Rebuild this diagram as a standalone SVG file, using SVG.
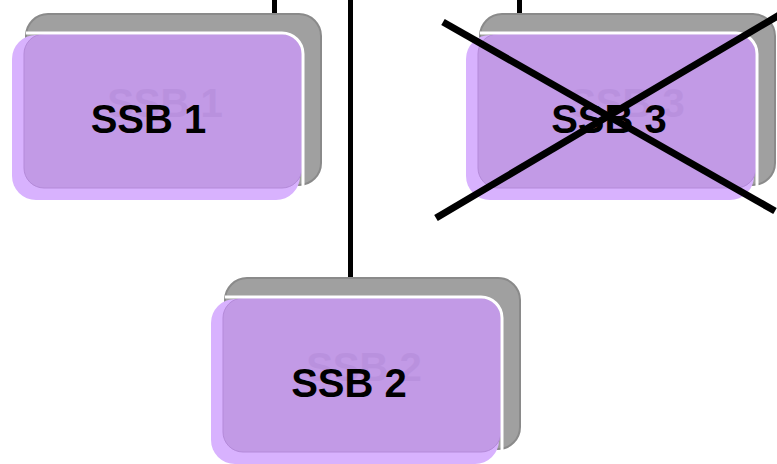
<svg xmlns="http://www.w3.org/2000/svg" width="777" height="464" viewBox="0 0 777 464">
<style>
.shadow{fill:#a0a0a0;stroke:#8a8a8a;stroke-width:2}
.light{fill:#d8b2fe}
.dark{fill:#c29ae6;stroke:#b48ad9;stroke-width:1}
.edge{fill:none;stroke:#ffffff;stroke-width:3}
.lbl{font-family:"Liberation Sans",Arial,sans-serif;font-weight:bold;font-size:40px;text-anchor:middle;fill:#000}
.ghost{font-family:"Liberation Sans",Arial,sans-serif;font-weight:bold;font-size:40px;text-anchor:middle;fill:#b38bd8;opacity:0.55}
.conn{stroke:#000;stroke-width:5;fill:none}
.cross{stroke:#000;stroke-width:7;fill:none}
</style>
<defs>
<g id="box">
<rect class="shadow" x="14" y="0" width="295" height="171" rx="22"/>
<rect class="light" x="0" y="21" width="288" height="165" rx="24"/>
<rect class="dark" x="12" y="20" width="278" height="154" rx="20"/>
<path class="edge" d="M14,19 H270 A21,21 0 0 1 291,40 V176"/>
</g>
</defs>
<g id="connectors">
<line class="conn" x1="274.5" y1="0" x2="274.5" y2="15"/>
<line class="conn" x1="350.5" y1="0" x2="350.5" y2="279"/>
<line class="conn" x1="519.5" y1="0" x2="519.5" y2="15"/>
</g>
<g id="ssb1" transform="translate(12,14)">
<use href="#box"/>
<text class="ghost" x="153" y="103">SSB 1</text>
<text class="lbl" x="136.5" y="119">SSB 1</text>
</g>
<g id="ssb3" transform="translate(466,14)">
<use href="#box"/>
<text class="ghost" x="161" y="103">SSB 3</text>
<text class="lbl" x="143" y="119">SSB 3</text>
</g>
<g id="ssb2" transform="translate(211,278)">
<use href="#box"/>
<text class="ghost" x="153" y="103">SSB 2</text>
<text class="lbl" x="138" y="119">SSB 2</text>
</g>
<g id="cross">
<line class="cross" x1="443" y1="22" x2="775" y2="211"/>
<line class="cross" x1="436" y1="218" x2="781" y2="14"/>
</g>
</svg>
